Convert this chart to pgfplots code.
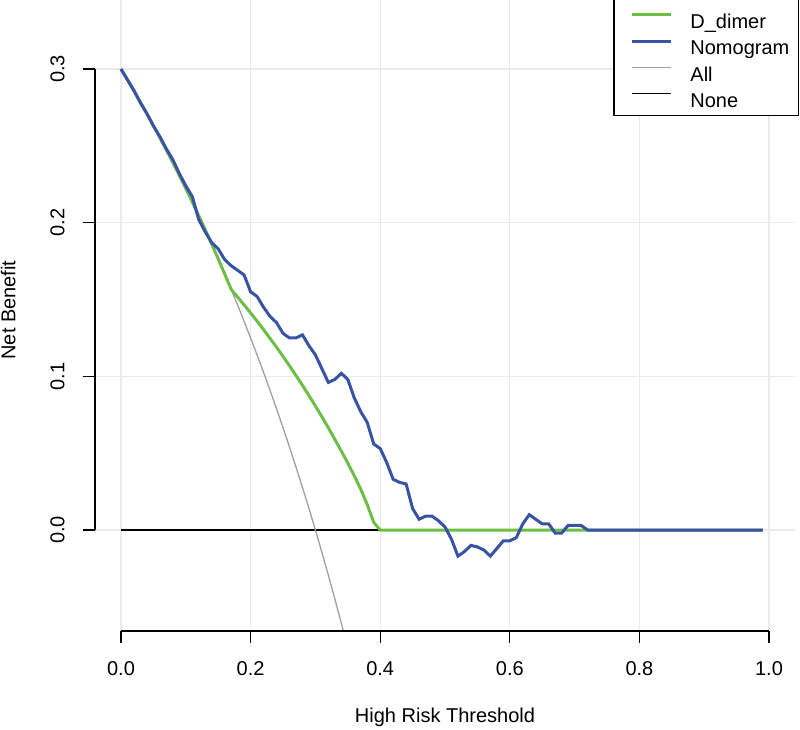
\documentclass[border=0pt]{standalone}
\usepackage{fontspec}
\setmainfont{Liberation Sans}
\usepackage{pgfplots}
\usepackage{pgfplotstable}
\pgfplotsset{compat=1.18}
\definecolor{dgreen}{RGB}{109,190,69}
\definecolor{nblue}{RGB}{57,83,164}
\definecolor{allgray}{RGB}{160,160,160}
\definecolor{gridgray}{RGB}{235,235,235}
\newcommand{\fs}{\fontsize{20}{24}\selectfont}

\pgfplotstableread{
t nb
0.00 0.300000
0.01 0.292929
0.02 0.285714
0.03 0.278351
0.04 0.270833
0.05 0.263158
0.06 0.255319
0.07 0.247312
0.08 0.239130
0.09 0.230769
0.10 0.222222
0.11 0.213483
0.12 0.204545
0.13 0.195402
0.14 0.186047
0.15 0.176471
0.16 0.166667
0.17 0.156627
0.18 0.146341
0.19 0.135802
0.20 0.125000
0.21 0.113924
0.22 0.102564
0.23 0.090909
0.24 0.078947
0.25 0.066667
0.26 0.054054
0.27 0.041096
0.28 0.027778
0.29 0.014085
0.30 0.000000
0.31 -0.014493
0.32 -0.029412
0.33 -0.044776
0.34 -0.060606
0.35 -0.076923
}\alltable

\pgfplotstableread{
t nb
0.00 0.0
0.99 0.0
}\nonetable

\pgfplotstableread{
t nb
0.00 0.300000
0.01 0.292929
0.02 0.285714
0.03 0.278351
0.04 0.270833
0.05 0.263158
0.06 0.255319
0.07 0.247312
0.08 0.239130
0.09 0.230769
0.10 0.222222
0.11 0.213483
0.12 0.204545
0.13 0.195402
0.14 0.186047
0.15 0.176471
0.16 0.166667
0.17 0.156627
0.18 0.1516
0.19 0.1465
0.20 0.1413
0.21 0.1359
0.22 0.1304
0.23 0.1247
0.24 0.1190
0.25 0.1130
0.26 0.1069
0.27 0.1006
0.28 0.0942
0.29 0.0875
0.30 0.0807
0.31 0.0737
0.32 0.0665
0.33 0.0590
0.34 0.0514
0.35 0.0435
0.36 0.0353
0.37 0.0266
0.38 0.0165
0.39 0.0050
0.40 0.0
0.99 0.0
}\dtable

\pgfplotstableread{
t nb
0.00 0.300
0.01 0.293
0.02 0.286
0.03 0.278
0.04 0.271
0.05 0.263
0.06 0.256
0.07 0.248
0.08 0.241
0.09 0.232
0.10 0.224
0.11 0.217
0.12 0.202
0.13 0.194
0.14 0.187
0.15 0.183
0.16 0.176
0.17 0.172
0.18 0.169
0.19 0.166
0.20 0.155
0.21 0.152
0.22 0.145
0.23 0.139
0.24 0.135
0.25 0.128
0.26 0.125
0.27 0.125
0.28 0.127
0.29 0.120
0.30 0.114
0.31 0.105
0.32 0.096
0.33 0.098
0.34 0.102
0.35 0.098
0.36 0.086
0.37 0.077
0.38 0.070
0.39 0.056
0.40 0.053
0.41 0.044
0.42 0.033
0.43 0.031
0.44 0.030
0.45 0.014
0.46 0.007
0.47 0.009
0.48 0.009
0.49 0.006
0.50 0.002
0.51 -0.006
0.52 -0.017
0.53 -0.014
0.54 -0.010
0.55 -0.011
0.56 -0.013
0.57 -0.017
0.58 -0.012
0.59 -0.007
0.60 -0.007
0.61 -0.005
0.62 0.004
0.63 0.010
0.64 0.007
0.65 0.004
0.66 0.004
0.67 -0.002
0.68 -0.002
0.69 0.003
0.70 0.003
0.71 0.003
0.72 0.000
0.99 0.000
}\ntable

\begin{document}
\begin{tikzpicture}
\path[use as bounding box] (0pt,0pt) rectangle (800pt,730pt);
\begin{axis}[
  at={(95pt,99pt)}, anchor=south west, scale only axis,
  width=700pt, height=631pt,
  xmin=-0.0401, xmax=1.0401, ymin=-0.0657, ymax=0.3449,
  axis line style={draw=none},
  clip mode=individual,
  grid=major,
  major grid style={gridgray, line width=1.3pt},
  xtick={0,0.2,0.4,0.6,0.8,1}, ytick={0,0.1,0.2,0.3},
  xtick pos=left, ytick pos=left,
  tick align=outside, major tick length=12pt,
  tick style={black, line width=1.3pt},
  tick label style={font=\fs},
  /pgf/number format/assume math mode=true,
  /pgf/number format/fixed,
  /pgf/number format/fixed zerofill,
  /pgf/number format/precision=1,
  xticklabel style={yshift=-15pt},
  yticklabel style={xshift=-15pt, rotate=90, anchor=south},
  xlabel={High Risk Threshold},
  ylabel={Net Benefit},
  every axis x label/.style={at={(axis description cs:0.5,-0.1458)}, anchor=base, font=\fs},
  every axis y label/.style={at={(axis description cs:-0.1136,0.5087)}, anchor=base, rotate=90, font=\fs},
  legend style={at={(1.0057,0.8162)}, anchor=south east, draw=black, line width=1.3pt,
    fill=white, font=\fs, inner xsep=9pt, inner ysep=6.5pt, nodes={inner sep=0pt},
    row sep=3pt, column sep=18pt},
  legend cell align=left,
  legend image code/.code={\path[draw=none,fill=none] (0pt,-5pt) rectangle (48pt,15pt); \draw[#1] (9pt,7pt) -- (48pt,7pt);},
]
\addplot[black, line width=1.3pt, forget plot] table[x=t,y=nb] {\nonetable};
\addplot[allgray, line width=1.3pt, forget plot] table[x=t,y=nb] {\alltable};
\addplot[dgreen, line width=3pt, forget plot] table[x=t,y=nb] {\dtable};
\addplot[nblue, line width=3pt, forget plot] table[x=t,y=nb] {\ntable};
\draw[black, line width=1.3pt] (axis cs:0,-0.0657) -- (axis cs:1,-0.0657);
\draw[black, line width=1.3pt] (axis cs:-0.0401,0) -- (axis cs:-0.0401,0.3);
\addlegendimage{empty legend}
\addlegendentry{\rule{0pt}{40pt}}
\addlegendimage{dgreen, line width=3pt}
\addlegendentry{\rule[-5pt]{0pt}{20pt}D\_dimer}
\addlegendimage{nblue, line width=3pt}
\addlegendentry{\rule[-5pt]{0pt}{20pt}Nomogram}
\addlegendimage{allgray, line width=1.3pt}
\addlegendentry{\rule[-5pt]{0pt}{20pt}All}
\addlegendimage{black, line width=1.3pt}
\addlegendentry{\rule[-5pt]{0pt}{20pt}None}
\end{axis}
\end{tikzpicture}
\end{document}
